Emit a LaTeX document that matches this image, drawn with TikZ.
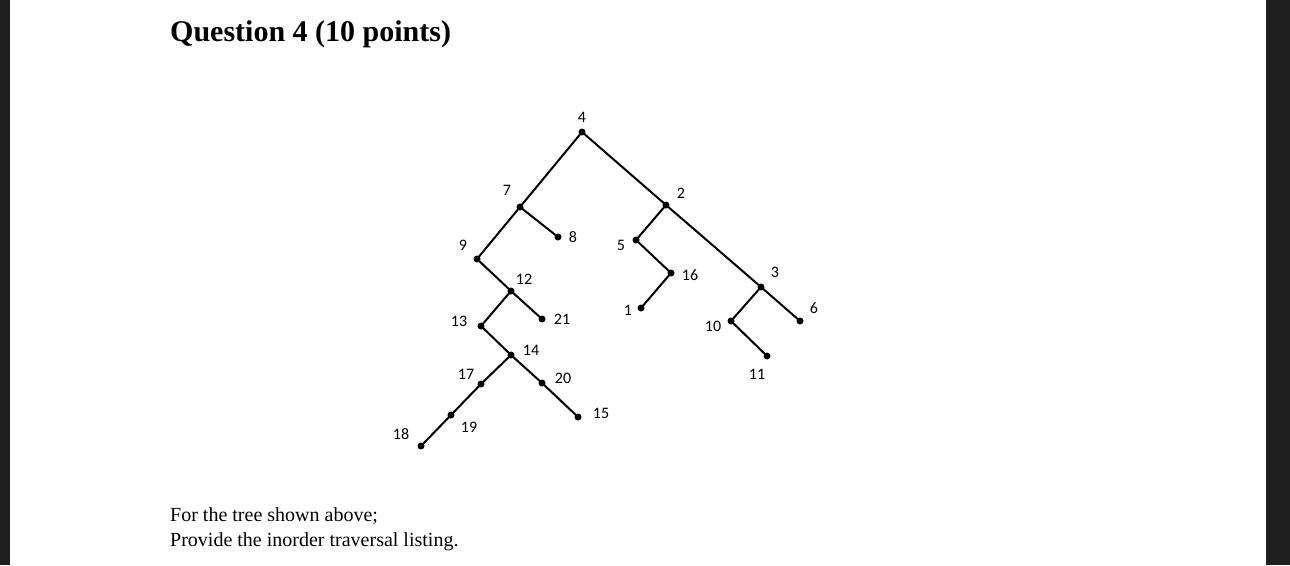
\documentclass[tikz,border=0pt]{standalone}
\usepackage{fontspec}
\setmainfont{Liberation Serif}
\newfontfamily\lblfont{Carlito}
\begin{document}
\begin{tikzpicture}[x=1pt,y=-1pt,
  dot/.style={circle,fill=black,inner sep=0pt,minimum size=7pt},
  lbl/.style={font=\lblfont\fontsize{16}{16}\selectfont,inner sep=0pt},
  edge/.style={line width=2pt}]
\useasboundingbox (0,0) rectangle (1290,565);
\fill[black!88] (0,0) rectangle (10,565);
\fill[black!88] (1266,0) rectangle (1290,565);
\node[anchor=west,font=\bfseries\fontsize{30}{30}\selectfont,inner sep=0pt] (title) at (170,34) {Question 4 (10 points)};
\node[anchor=west,font=\fontsize{20}{20}\selectfont,inner sep=0pt] (t1) at (170,516) {For the tree shown above;};
\node[anchor=west,font=\fontsize{20}{20}\selectfont,inner sep=0pt] (t2) at (170,542) {Provide the inorder traversal listing.};
\foreach \n/\x/\y in {4/582/132,7/520/207,2/666/205,8/558/237,9/477/259,12/511/291,21/542/319,13/481/326,14/511/355,17/481/384,20/542/383,19/451/415,18/421/446,15/578/417,5/636/240,16/671/273,1/641/308,3/761/287,10/731/321,11/767/356,6/800/321}
  \node[dot] (n\n) at (\x,\y) {};
\foreach \n/\x/\y in {4/582/117,7/507/190,2/681/193,8/573/237,9/463/245,12/524/279,21/562/319,13/459/321,14/531/350,17/466/374,20/563/378,19/469/427,18/401/434,15/601/413,5/621/245,16/690/275,1/628/310,3/775/272,10/713/326,11/757/374,6/814/308}
  \node[lbl] (l\n) at (\x,\y) {\n};
\foreach \a/\b in {4/7,4/2,7/9,7/8,9/12,12/13,12/21,13/14,14/17,14/20,17/19,19/18,20/15,2/5,2/3,5/16,16/1,3/10,3/6,10/11}
  \draw[edge] (n\a.center) -- (n\b.center);
\end{tikzpicture}
\end{document}
